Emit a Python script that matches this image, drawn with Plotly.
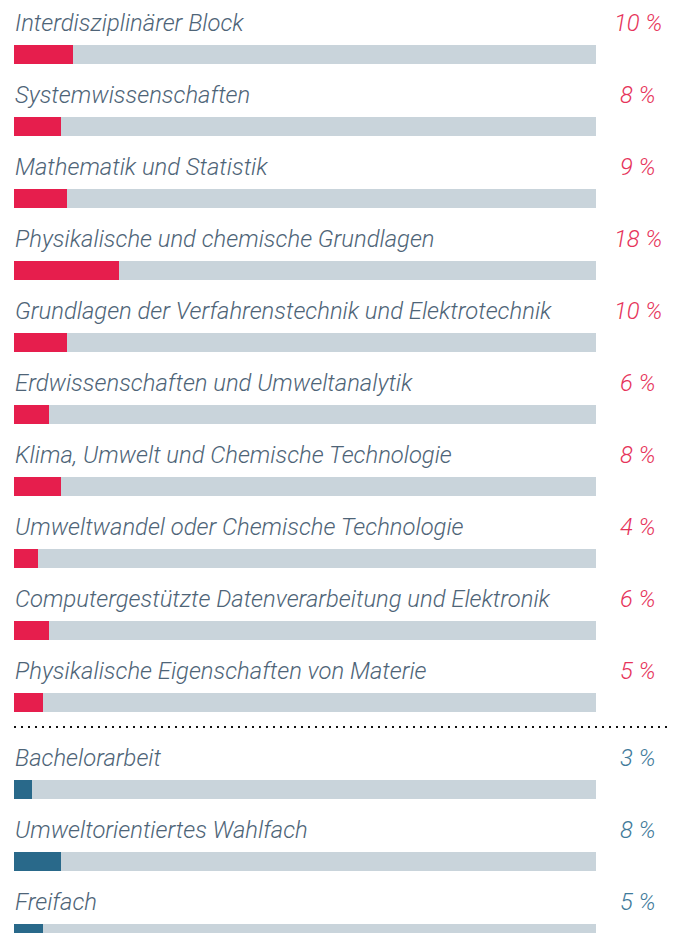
import plotly.graph_objects as go

labels = [
    "Interdisziplinärer Block",
    "Systemwissenschaften",
    "Mathematik und Statistik",
    "Physikalische und chemische Grundlagen",
    "Grundlagen der Verfahrenstechnik und Elektrotechnik",
    "Erdwissenschaften und Umweltanalytik",
    "Klima, Umwelt und Chemische Technologie",
    "Umweltwandel oder Chemische Technologie",
    "Computergestützte Datenverarbeitung und Elektronik",
    "Physikalische Eigenschaften von Materie",
    "Bachelorarbeit",
    "Umweltorientiertes Wahlfach",
    "Freifach",
]
bar_values = [10.1, 8.1, 9.1, 18.0, 9.1, 6.0, 8.1, 4.1, 6.0, 5.0, 3.1, 8.1, 5.0]
pct_labels = ["10 %", "8 %", "9 %", "18 %", "10 %", "6 %", "8 %", "4 %", "6 %", "5 %",
              "3 %", "8 %", "5 %"]
groups = ["core"] * 10 + ["elective"] * 3

W, H = 680, 933
BAR_L, BAR_R = 14, 596
ROW = 72
FIRST_BAR_TOP = 45
BAR_H = 19
SEP_GAP = 15

RED = "#E61E4D"
BLUE = "#29698A"
GRAY = "#C9D4DB"
TXT = "#4E6477"
RED_TXT = "#E6335A"
BLUE_TXT = "#3F7A9A"

span = 100 * W / (BAR_R - BAR_L)
x0 = -BAR_L / W * span
x1 = x0 + span
def px_to_x(px):
    return x0 + px / W * span

bar_tops = []
for i, g in enumerate(groups):
    top = FIRST_BAR_TOP + i * ROW + (SEP_GAP if g == "elective" else 0)
    bar_tops.append(top)
centers = [t + BAR_H / 2 for t in bar_tops]

fig = go.Figure()
fig.add_trace(go.Bar(
    orientation="h", y=centers, x=[100] * len(labels), width=BAR_H,
    marker=dict(color=GRAY, line=dict(width=0)), hoverinfo="skip", showlegend=False,
))
fig.add_trace(go.Bar(
    orientation="h", y=centers, x=bar_values, width=BAR_H,
    marker=dict(color=[RED if g == "core" else BLUE for g in groups], line=dict(width=0)),
    hovertext=labels, showlegend=False,
))

font_family = "Roboto, Liberation Sans, Arial, sans-serif"
FS = 23.8
for lab, pct, top, g in zip(labels, pct_labels, bar_tops, groups):
    fig.add_annotation(
        x=px_to_x(BAR_L - 1.5), y=top - 22.5, text=lab, showarrow=False,
        xanchor="left", yanchor="middle",
        font=dict(family=font_family, size=FS, color=TXT, style="italic", weight=300),
    )
    fig.add_annotation(
        x=px_to_x(638), y=top - 22.5, text=pct, showarrow=False,
        xanchor="center", yanchor="middle",
        font=dict(family=font_family, size=FS, color=RED_TXT if g == "core" else BLUE_TXT,
                  style="italic", weight=300),
    )

fig.add_shape(
    type="line", xref="x", yref="y",
    x0=px_to_x(BAR_L), x1=px_to_x(672), y0=727, y1=727,
    line=dict(color="#111111", width=2, dash="2px,5px"),
)

fig.update_layout(
    width=W, height=H, margin=dict(l=0, r=0, t=0, b=0),
    paper_bgcolor="white", plot_bgcolor="white",
    barmode="overlay", bargap=0,
    xaxis=dict(range=[x0, x1], visible=False, fixedrange=True),
    yaxis=dict(range=[H, 0], visible=False, fixedrange=True),
)

fig.write_html(
    "out.html",
    config={"displayModeBar": False},
    post_script="document.body.style.margin='0';document.body.style.overflow='hidden';",
)
